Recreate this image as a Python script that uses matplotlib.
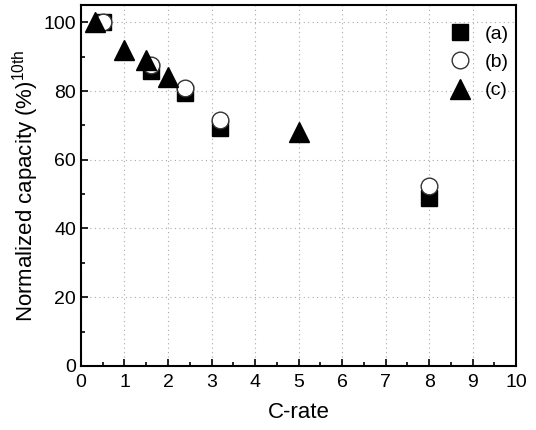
import numpy as np
import matplotlib
matplotlib.use("Agg")
import matplotlib.pyplot as plt
from matplotlib.ticker import MultipleLocator

plt.rcParams['font.family'] = ['Liberation Sans', 'DejaVu Sans']

# --- data ---
rate_a = [0.5, 1.6, 2.4, 3.2, 8.0]
cap_a = [100.0, 85.8, 79.5, 69.3, 49.0]

rate_b = [0.5, 1.6, 2.4, 3.2, 8.0]
cap_b = [100.0, 87.5, 81.0, 71.7, 52.5]

rate_c = [0.33, 1.0, 1.5, 2.0, 5.0]
cap_c = [100.0, 92.0, 89.0, 84.0, 68.0]

fig = plt.figure(figsize=(5.36, 4.30), dpi=100)
ax = fig.add_axes([0.151, 0.149, 0.812, 0.839])

ax.plot(rate_a, cap_a, 's', color='black', markersize=11, label='(a)', zorder=3)
ax.plot(rate_b, cap_b, 'o', markerfacecolor='white', markeredgecolor='#333333',
        markeredgewidth=1.0, markersize=12, label='(b)', zorder=4)
ax.plot(rate_c, cap_c, '^', color='black', markersize=14, label='(c)', zorder=5)

ax.set_xlim(0, 10)
ax.set_ylim(0, 105)
ax.xaxis.set_major_locator(MultipleLocator(1))
ax.xaxis.set_minor_locator(MultipleLocator(0.5))
ax.yaxis.set_major_locator(MultipleLocator(20))
ax.yaxis.set_minor_locator(MultipleLocator(10))
ax.tick_params(which='both', direction='in', top=False, right=False, labelsize=14)
ax.tick_params(which='major', length=5, width=1.2)
ax.tick_params(axis='x', which='major', pad=6)
ax.tick_params(which='minor', length=3, width=1.2)
for s in ax.spines.values():
    s.set_linewidth(1.5)

ax.grid(True, which='major', linestyle=(0, (1, 3)), color='#aaaaaa', linewidth=0.8)

ax.set_xlabel('C-rate', fontsize=16, labelpad=8)
ax.set_ylabel('Normalized capacity (%)$^{\\mathregular{10th}}$', fontsize=16, labelpad=2)

ax.legend(loc='upper left', frameon=False, fontsize=14, handletextpad=0.5,
          borderaxespad=0, labelspacing=0.55, handlelength=1.5,
          bbox_to_anchor=(0.82, 0.966))

fig.savefig('out.png', dpi=100)
